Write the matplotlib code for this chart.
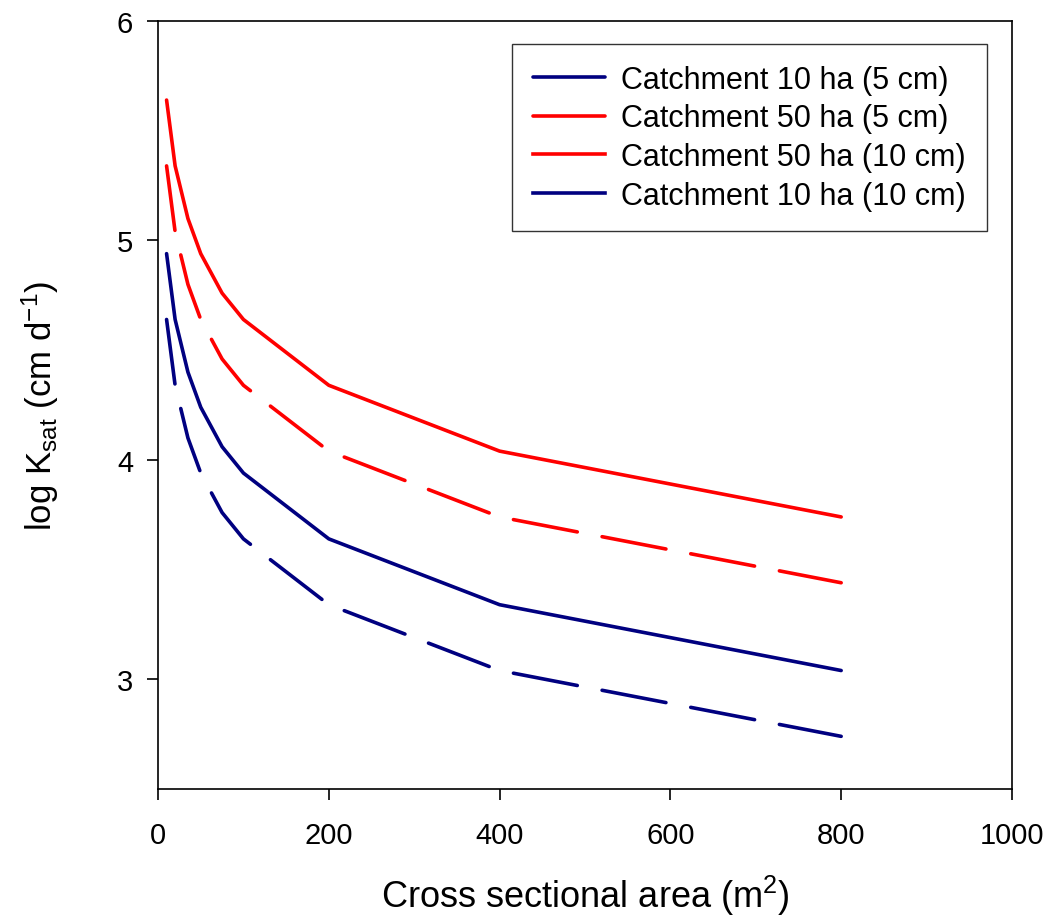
import matplotlib
matplotlib.use("Agg")
import matplotlib.pyplot as plt

plt.rcParams['font.family'] = ['Liberation Sans', 'DejaVu Sans']
plt.rcParams['mathtext.fontset'] = 'custom'
plt.rcParams['mathtext.rm'] = 'Liberation Sans'
plt.rcParams['mathtext.it'] = 'Liberation Sans:italic'
plt.rcParams['mathtext.default'] = 'regular'

# cross sectional area (m2)
area = [10, 20, 35, 50, 75, 100, 200, 400, 800]

# log Ksat
c10_5cm = [4.94, 4.64, 4.40, 4.24, 4.06, 3.94, 3.64, 3.34, 3.04]
c50_5cm = [5.64, 5.34, 5.10, 4.94, 4.76, 4.64, 4.34, 4.04, 3.74]
c50_10cm = [5.34, 5.04, 4.80, 4.64, 4.46, 4.34, 4.04, 3.74, 3.44]
c10_10cm = [4.64, 4.34, 4.10, 3.94, 3.76, 3.64, 3.34, 3.04, 2.74]

labels = ["Catchment 10 ha (5 cm)", "Catchment 50 ha (5 cm)",
          "Catchment 50 ha (10 cm)", "Catchment 10 ha (10 cm)"]

navy = '#000080'
red = '#ff0000'

fig = plt.figure(figsize=(10.48, 9.2), dpi=100)
ax = fig.add_axes([0.1508, 0.1413, 0.8148, 0.8347])

lw = 2.6
dash = (18, 7)
ax.plot(area, c10_5cm, color=navy, lw=lw, solid_capstyle='round', label=labels[0])
ax.plot(area, c50_5cm, color=red, lw=lw, solid_capstyle='round', label=labels[1])
ax.plot(area, c50_10cm, color=red, lw=lw, dashes=dash, dash_capstyle='round', label=labels[2])
ax.plot(area, c10_10cm, color=navy, lw=lw, dashes=dash, dash_capstyle='round', label=labels[3])

ax.set_xlim(0, 1000)
ax.set_ylim(2.5, 6)
ax.set_xticks([0, 200, 400, 600, 800, 1000])
ax.set_yticks([3, 4, 5, 6])
ax.tick_params(axis='x', direction='out', length=8, width=1.2, labelsize=21, pad=15)
ax.tick_params(axis='y', direction='out', length=8, width=1.2, labelsize=21, pad=10)
for s in ax.spines.values():
    s.set_linewidth(1.2)

ax.set_xlabel("Cross sectional area (m$^2$)", fontsize=26, labelpad=17)
ax.set_ylabel("log K$_{sat}$ (cm d$^{-1}$)", fontsize=25, labelpad=40)

leg = ax.legend(loc='upper right', bbox_to_anchor=(0.9707, 0.970), borderaxespad=0,
                fontsize=22, handlelength=2.35, handletextpad=0.55, labelspacing=0.28,
                borderpad=0.68, fancybox=False, frameon=True)
leg.get_frame().set_edgecolor('black')
leg.get_frame().set_linewidth(1.0)
for h in leg.get_lines():
    h.set_dashes((None, None))
    h.set_linestyle('-')

fig.savefig("out.png", dpi=100)
